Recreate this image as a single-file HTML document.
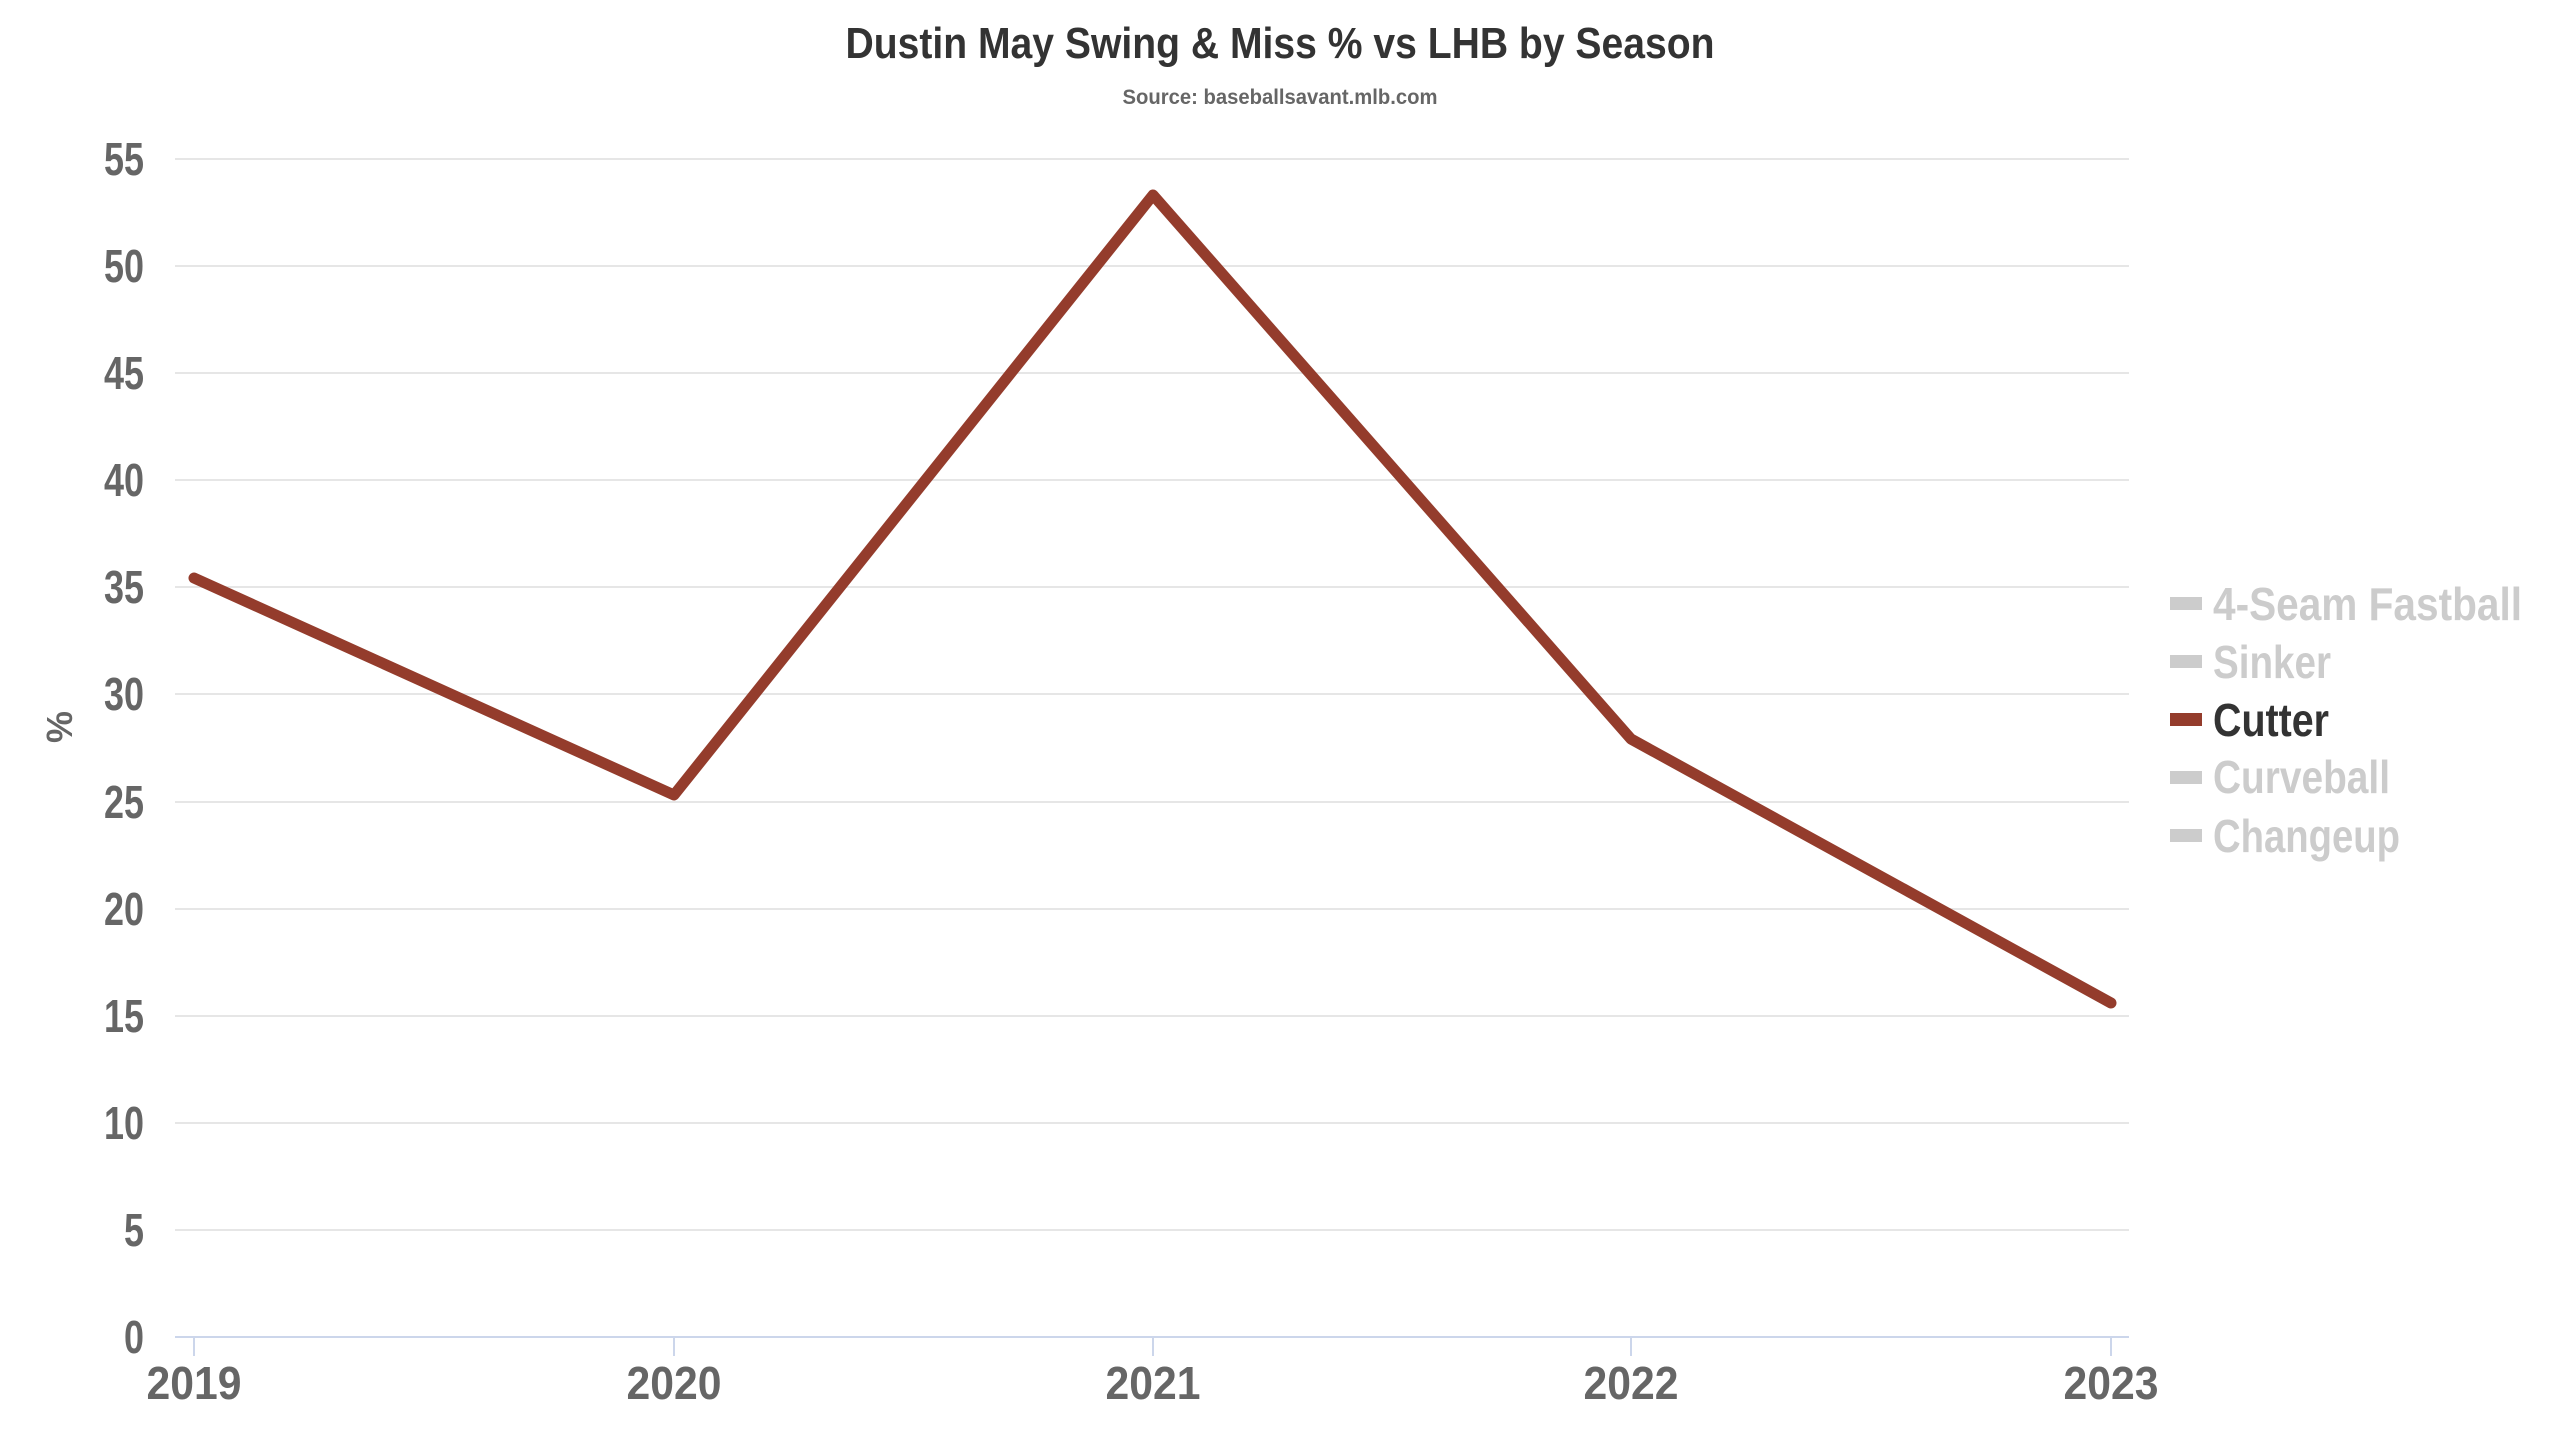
<!DOCTYPE html>
<html><head><meta charset="utf-8"><style>
html,body{margin:0;padding:0;background:#fff;}
svg{display:block;font-family:"Liberation Sans",sans-serif;font-weight:bold;}
</style></head><body>
<svg width="2560" height="1440" viewBox="0 0 2560 1440">
<rect width="2560" height="1440" fill="#fff"/>
<text x="1280" y="58" text-anchor="middle" font-size="44" fill="#333" textLength="869" lengthAdjust="spacingAndGlyphs">Dustin May Swing &amp; Miss % vs LHB by Season</text>
<text x="1280" y="104" text-anchor="middle" font-size="21" fill="#666" textLength="315" lengthAdjust="spacingAndGlyphs">Source: baseballsavant.mlb.com</text>
<g stroke="#e6e6e6" stroke-width="2">
<line x1="175" x2="2129" y1="159" y2="159"/>
<line x1="175" x2="2129" y1="266" y2="266"/>
<line x1="175" x2="2129" y1="373" y2="373"/>
<line x1="175" x2="2129" y1="480" y2="480"/>
<line x1="175" x2="2129" y1="587" y2="587"/>
<line x1="175" x2="2129" y1="694" y2="694"/>
<line x1="175" x2="2129" y1="802" y2="802"/>
<line x1="175" x2="2129" y1="909" y2="909"/>
<line x1="175" x2="2129" y1="1016" y2="1016"/>
<line x1="175" x2="2129" y1="1123" y2="1123"/>
<line x1="175" x2="2129" y1="1230" y2="1230"/>
</g>
<line x1="175" x2="2129" y1="1337" y2="1337" stroke="#ccd6eb" stroke-width="2"/>
<g stroke="#ccd6eb" stroke-width="2">
<line x1="194" x2="194" y1="1337" y2="1356"/>
<line x1="674" x2="674" y1="1337" y2="1356"/>
<line x1="1153" x2="1153" y1="1337" y2="1356"/>
<line x1="1631" x2="1631" y1="1337" y2="1356"/>
<line x1="2111" x2="2111" y1="1337" y2="1356"/>
</g>
<g font-size="46" fill="#666" text-anchor="end">
<text x="144" y="175" textLength="40" lengthAdjust="spacingAndGlyphs">55</text>
<text x="144" y="282" textLength="40" lengthAdjust="spacingAndGlyphs">50</text>
<text x="144" y="389" textLength="40" lengthAdjust="spacingAndGlyphs">45</text>
<text x="144" y="496" textLength="40" lengthAdjust="spacingAndGlyphs">40</text>
<text x="144" y="603" textLength="40" lengthAdjust="spacingAndGlyphs">35</text>
<text x="144" y="710" textLength="40" lengthAdjust="spacingAndGlyphs">30</text>
<text x="144" y="818" textLength="40" lengthAdjust="spacingAndGlyphs">25</text>
<text x="144" y="925" textLength="40" lengthAdjust="spacingAndGlyphs">20</text>
<text x="144" y="1032" textLength="40" lengthAdjust="spacingAndGlyphs">15</text>
<text x="144" y="1139" textLength="40" lengthAdjust="spacingAndGlyphs">10</text>
<text x="144" y="1246" textLength="20" lengthAdjust="spacingAndGlyphs">5</text>
<text x="144" y="1353" textLength="20" lengthAdjust="spacingAndGlyphs">0</text>
</g>
<text transform="translate(72,727) rotate(-90)" text-anchor="middle" font-size="36" fill="#666">%</text>
<g font-size="46" fill="#666" text-anchor="middle">
<text x="194" y="1399" textLength="95" lengthAdjust="spacingAndGlyphs">2019</text>
<text x="674" y="1399" textLength="95" lengthAdjust="spacingAndGlyphs">2020</text>
<text x="1153" y="1399" textLength="95" lengthAdjust="spacingAndGlyphs">2021</text>
<text x="1631" y="1399" textLength="95" lengthAdjust="spacingAndGlyphs">2022</text>
<text x="2111" y="1399" textLength="95" lengthAdjust="spacingAndGlyphs">2023</text>
</g>
<polyline points="194,578 674,795 1153,195 1631,739 2111,1003" fill="none" stroke="#943c2c" stroke-width="11" stroke-linejoin="round" stroke-linecap="round"/>
<g font-size="46">
<rect x="2170" y="597" width="32" height="13" fill="#cccccc"/>
<text x="2213" y="620" fill="#cccccc" textLength="309" lengthAdjust="spacingAndGlyphs">4-Seam Fastball</text>
<rect x="2170" y="655" width="32" height="13" fill="#cccccc"/>
<text x="2213" y="678" fill="#cccccc" textLength="118" lengthAdjust="spacingAndGlyphs">Sinker</text>
<rect x="2170" y="713" width="32" height="13" fill="#943c2c"/>
<text x="2213" y="736" fill="#333" textLength="116" lengthAdjust="spacingAndGlyphs">Cutter</text>
<rect x="2170" y="771" width="32" height="13" fill="#cccccc"/>
<text x="2213" y="793" fill="#cccccc" textLength="177" lengthAdjust="spacingAndGlyphs">Curveball</text>
<rect x="2170" y="829" width="32" height="13" fill="#cccccc"/>
<text x="2213" y="852" fill="#cccccc" textLength="187" lengthAdjust="spacingAndGlyphs">Changeup</text>
</g>
</svg>
</body></html>
